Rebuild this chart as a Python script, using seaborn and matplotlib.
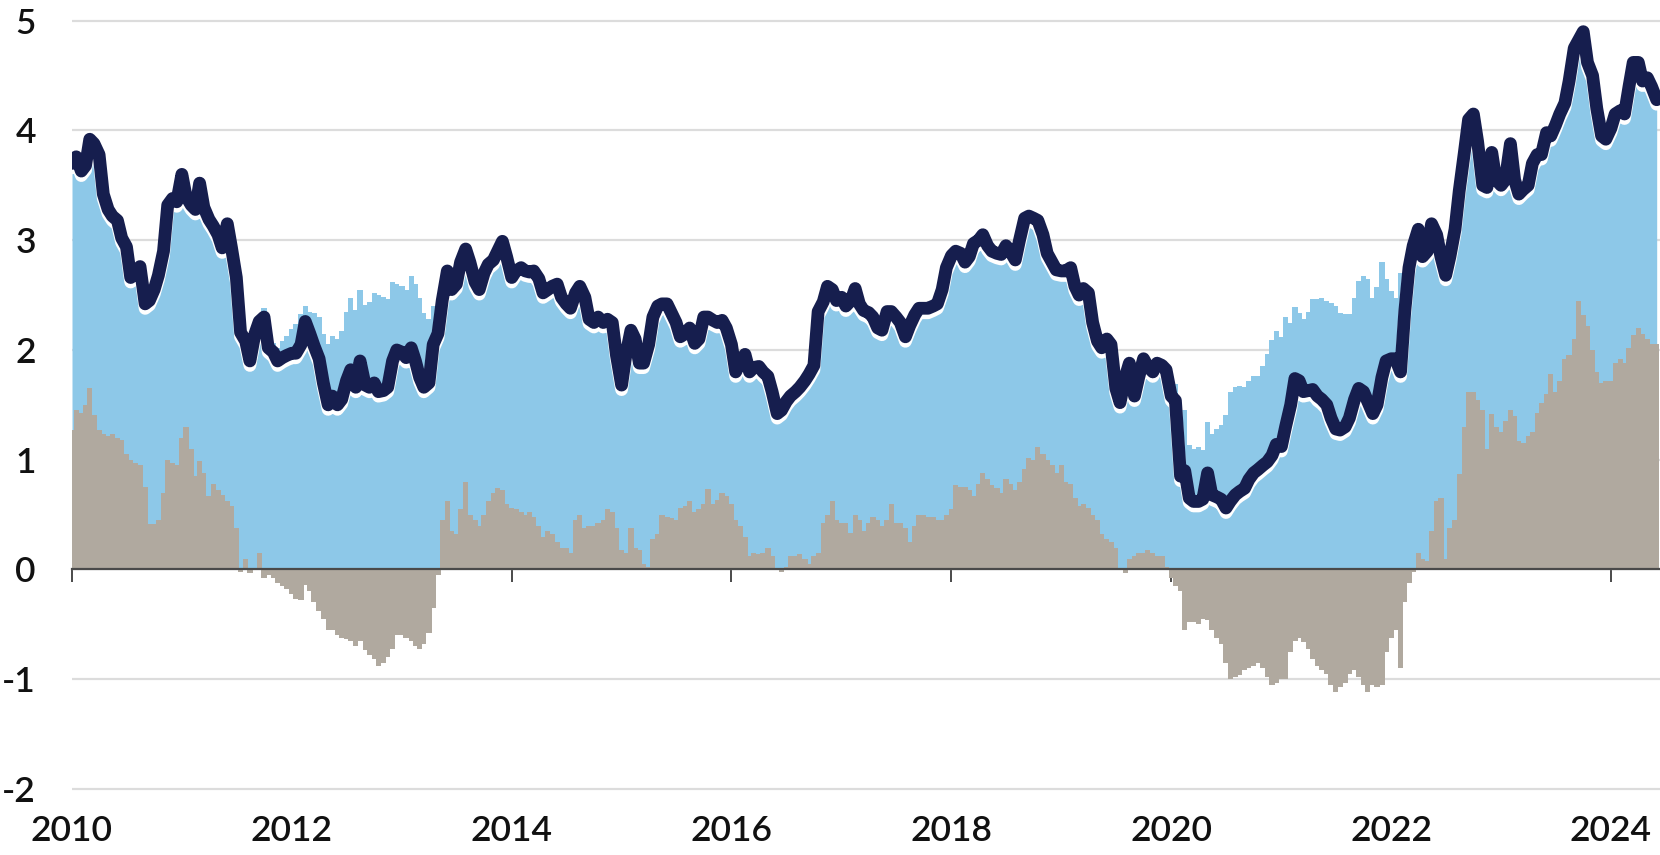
import numpy as np
import pandas as pd
import matplotlib
matplotlib.use("Agg")
import matplotlib.pyplot as plt
from matplotlib.transforms import ScaledTranslation
import seaborn as sns

# ---------------- data (semi-monthly readings, %) ----------------
nominal_yield = [
    3.70, 3.76, 3.63, 3.68, 3.92, 3.88, 3.78, 3.42, 3.28, 3.22, 3.18, 3.02, 2.94, 2.66, 2.70, 2.76, 2.42, 2.45, 2.55, 2.68, 2.90, 3.32, 3.38, 3.35,  # 2010
    3.60, 3.40, 3.32, 3.28, 3.52, 3.30, 3.19, 3.13, 3.05, 2.93, 3.15, 2.93, 2.66, 2.16, 2.08, 1.90, 2.15, 2.26, 2.30, 2.02, 1.98, 1.90, 1.93, 1.95,  # 2011
    1.97, 1.97, 2.05, 2.26, 2.15, 2.04, 1.92, 1.70, 1.50, 1.58, 1.50, 1.55, 1.72, 1.82, 1.66, 1.90, 1.68, 1.66, 1.70, 1.62, 1.63, 1.66, 1.90, 2.00,  # 2012
    1.98, 1.93, 2.02, 1.90, 1.75, 1.66, 1.70, 2.05, 2.15, 2.45, 2.72, 2.55, 2.60, 2.80, 2.92, 2.80, 2.62, 2.55, 2.70, 2.78, 2.82, 2.90, 2.99, 2.85,  # 2013
    2.66, 2.72, 2.75, 2.72, 2.71, 2.72, 2.65, 2.52, 2.55, 2.58, 2.60, 2.48, 2.42, 2.38, 2.52, 2.58, 2.48, 2.28, 2.25, 2.30, 2.25, 2.28, 2.25, 1.95,  # 2014
    1.68, 1.95, 2.18, 2.10, 1.88, 1.88, 2.05, 2.30, 2.40, 2.42, 2.42, 2.34, 2.25, 2.12, 2.15, 2.20, 2.06, 2.10, 2.30, 2.30, 2.27, 2.25, 2.27, 2.20,  # 2015
    2.05, 1.80, 1.90, 1.96, 1.80, 1.84, 1.85, 1.80, 1.76, 1.62, 1.42, 1.45, 1.53, 1.58, 1.62, 1.66, 1.72, 1.78, 1.86, 2.35, 2.44, 2.58, 2.55, 2.45,  # 2016
    2.48, 2.40, 2.45, 2.56, 2.42, 2.36, 2.34, 2.30, 2.20, 2.18, 2.35, 2.35, 2.30, 2.25, 2.12, 2.22, 2.32, 2.38, 2.38, 2.38, 2.40, 2.42, 2.55, 2.75,  # 2017
    2.86, 2.90, 2.88, 2.80, 2.85, 2.97, 3.00, 3.05, 2.95, 2.90, 2.88, 2.87, 2.95, 2.90, 2.82, 3.00, 3.20, 3.22, 3.20, 3.18, 3.05, 2.88, 2.80, 2.73,  # 2018
    2.72, 2.72, 2.75, 2.58, 2.50, 2.56, 2.52, 2.25, 2.08, 2.02, 2.10, 2.05, 1.65, 1.52, 1.75, 1.88, 1.58, 1.75, 1.92, 1.85, 1.80, 1.88, 1.86, 1.82,  # 2019
    1.58, 1.54, 0.85, 0.90, 0.65, 0.62, 0.62, 0.64, 0.88, 0.68, 0.66, 0.64, 0.56, 0.62, 0.68, 0.71, 0.74, 0.82, 0.88, 0.91, 0.95, 0.98, 1.04, 1.14,  # 2020
    1.12, 1.30, 1.50, 1.74, 1.72, 1.62, 1.63, 1.64, 1.58, 1.55, 1.50, 1.38, 1.28, 1.27, 1.30, 1.38, 1.55, 1.65, 1.62, 1.53, 1.42, 1.50, 1.75, 1.90,  # 2021
    1.92, 1.92, 1.80, 2.35, 2.75, 2.95, 3.10, 2.85, 2.90, 3.15, 3.05, 2.85, 2.68, 2.85, 3.10, 3.45, 3.80, 4.10, 4.15, 3.90, 3.50, 3.48, 3.80, 3.55,  # 2022
    3.50, 3.55, 3.88, 3.55, 3.42, 3.46, 3.50, 3.70, 3.78, 3.78, 3.98, 3.95, 4.05, 4.15, 4.25, 4.45, 4.75, 4.82, 4.90, 4.62, 4.50, 4.20, 3.95, 3.92,  # 2023
    4.02, 4.15, 4.18, 4.15, 4.40, 4.62, 4.62, 4.45, 4.48, 4.40, 4.28,  # 2024
]

real_yield = [
    1.27, 1.45, 1.43, 1.50, 1.65, 1.41, 1.27, 1.23, 1.22, 1.23, 1.20, 1.18, 1.05, 1.00, 0.97, 0.95, 0.75, 0.41, 0.41, 0.45, 0.70, 1.00, 0.97, 0.95,  # 2010
    1.20, 1.30, 1.10, 0.85, 0.99, 0.88, 0.67, 0.78, 0.72, 0.68, 0.62, 0.58, 0.38, -0.02, 0.10, -0.03, 0.00, 0.15, -0.08, -0.05, -0.08, -0.12, -0.15, -0.18,  # 2011
    -0.22, -0.27, -0.28, -0.14, -0.20, -0.30, -0.38, -0.45, -0.55, -0.55, -0.60, -0.62, -0.63, -0.65, -0.70, -0.65, -0.73, -0.78, -0.82, -0.88, -0.85, -0.80, -0.72, -0.60,  # 2012
    -0.60, -0.62, -0.65, -0.70, -0.72, -0.68, -0.58, -0.35, -0.05, 0.45, 0.62, 0.35, 0.32, 0.55, 0.80, 0.50, 0.45, 0.40, 0.50, 0.62, 0.70, 0.74, 0.72, 0.60,  # 2013
    0.56, 0.55, 0.52, 0.50, 0.52, 0.48, 0.40, 0.30, 0.35, 0.32, 0.25, 0.20, 0.20, 0.15, 0.45, 0.50, 0.38, 0.40, 0.40, 0.42, 0.45, 0.55, 0.52, 0.38,  # 2014
    0.18, 0.15, 0.38, 0.20, 0.18, 0.05, 0.02, 0.28, 0.32, 0.50, 0.48, 0.47, 0.45, 0.56, 0.58, 0.62, 0.52, 0.55, 0.60, 0.73, 0.60, 0.63, 0.70, 0.67,  # 2015
    0.60, 0.45, 0.40, 0.30, 0.12, 0.15, 0.14, 0.15, 0.20, 0.12, 0.00, -0.02, 0.02, 0.12, 0.12, 0.14, 0.10, 0.05, 0.12, 0.15, 0.42, 0.50, 0.62, 0.45,  # 2016
    0.42, 0.42, 0.33, 0.50, 0.45, 0.35, 0.42, 0.48, 0.45, 0.40, 0.45, 0.60, 0.42, 0.42, 0.38, 0.25, 0.40, 0.50, 0.50, 0.48, 0.48, 0.45, 0.45, 0.50,  # 2017
    0.55, 0.77, 0.75, 0.75, 0.72, 0.67, 0.78, 0.88, 0.82, 0.77, 0.74, 0.70, 0.82, 0.78, 0.72, 0.80, 0.92, 1.02, 1.00, 1.12, 1.05, 1.00, 0.95, 0.88,  # 2018
    0.95, 0.80, 0.78, 0.65, 0.58, 0.60, 0.56, 0.50, 0.45, 0.32, 0.28, 0.25, 0.20, 0.00, -0.03, 0.10, 0.12, 0.15, 0.15, 0.18, 0.15, 0.12, 0.12, 0.02,  # 2019
    -0.08, -0.15, -0.20, -0.55, -0.48, -0.48, -0.50, -0.45, -0.46, -0.55, -0.62, -0.68, -0.85, -1.00, -0.98, -0.96, -0.92, -0.90, -0.88, -0.85, -0.90, -0.98, -1.05, -1.03,  # 2020
    -1.00, -1.00, -0.75, -0.65, -0.62, -0.66, -0.72, -0.82, -0.88, -0.92, -0.95, -1.05, -1.12, -1.07, -1.03, -0.95, -0.92, -0.98, -1.05, -1.12, -1.05, -1.07, -1.05, -0.75,  # 2021
    -0.62, -0.55, -0.90, -0.30, -0.12, -0.02, 0.15, 0.10, 0.08, 0.35, 0.62, 0.65, 0.10, 0.38, 0.45, 0.87, 1.30, 1.62, 1.62, 1.54, 1.45, 1.10, 1.42, 1.30,  # 2022
    1.25, 1.35, 1.45, 1.40, 1.17, 1.15, 1.22, 1.25, 1.43, 1.52, 1.60, 1.78, 1.62, 1.72, 1.92, 1.95, 2.10, 2.45, 2.32, 2.22, 2.00, 1.80, 1.70, 1.72,  # 2023
    1.72, 1.88, 1.92, 1.88, 2.02, 2.14, 2.20, 2.15, 2.10, 2.05, 2.05,  # 2024
]

start_date = "2010-01-01"
end_date = "2024-06-12"
x_tick_years = [2010, 2012, 2014, 2016, 2018, 2020, 2022, 2024]
y_ticks = [-2, -1, 0, 1, 2, 3, 4, 5]
y_tick_labels = ["-2", "-1", "0", "1", "2", "3", "4", "5"]

NAVY = "#161E4E"
BLUE = "#8DC8E8"
GRAY = "#B0A99F"
GRID = "#DCDCDC"
AXIS = "#4A4A4A"

# ---------------- styling ----------------
sns.set_theme(style="white")
plt.rcParams["font.family"] = ["Lato", "DejaVu Sans"]
plt.rcParams["font.weight"] = 600

nom = np.array(nominal_yield)
real = np.array(real_yield)
assert len(nom) == len(real)
dates = pd.date_range(start_date, periods=len(nom), freq="SMS")
breakeven = nom - real
df = pd.DataFrame({"date": dates, "nominal": nom, "real": real,
                   "breakeven": breakeven})

W, H = 1660, 855
fig = plt.figure(figsize=(W / 100, H / 100), dpi=100)
ax = fig.add_axes([72 / W, 63.8 / H, (W - 72) / W, 772.7 / H])

# blue area: nominal (and breakeven where it exceeds nominal)
ax.fill_between(df["date"], 0, df["nominal"], color=BLUE, lw=0, zorder=1)
be_above = np.where(df["real"] < 0, df["breakeven"], 0.0)
ax.bar(df["date"], be_above, width=17.5, color=BLUE, lw=0, zorder=1)

# real yield bars
ax.bar(df["date"], df["real"], width=17.5, color=GRAY, lw=0, zorder=2)

# white shadow + navy line
sns.lineplot(data=df, x="date", y="nominal", ax=ax, color="white",
             linewidth=9.2, solid_capstyle="round", solid_joinstyle="round",
             zorder=3, legend=False)
ax.lines[-1].set_transform(ax.transData +
                           ScaledTranslation(0, -0.045, fig.dpi_scale_trans))
sns.lineplot(data=df, x="date", y="nominal", ax=ax, color=NAVY,
             linewidth=9.2, solid_capstyle="round", solid_joinstyle="round",
             zorder=4, legend=False)

ax.set_xlabel("")
ax.set_ylabel("")
ax.set_xlim(pd.Timestamp(start_date), pd.Timestamp(end_date))
ax.set_ylim(-2.02, 5.02)

ax.set_yticks(y_ticks)
ax.set_yticklabels(y_tick_labels)
ax.set_xticks([pd.Timestamp(f"{y}-01-01") for y in x_tick_years])
ax.set_xticklabels([str(y) for y in x_tick_years])

ax.yaxis.grid(True, color=GRID, linewidth=1.6)
ax.xaxis.grid(False)
ax.set_axisbelow(True)

for s in ["left", "right", "top"]:
    ax.spines[s].set_visible(False)
ax.spines["bottom"].set_position(("data", 0))
ax.spines["bottom"].set_color(AXIS)
ax.spines["bottom"].set_linewidth(1.6)
ax.spines["bottom"].set_zorder(6)

ax.tick_params(axis="x", direction="out", length=9, width=1.4, color=AXIS,
               pad=168, labelsize=25.5, labelcolor="#111111", bottom=True)
ax.tick_params(axis="y", length=0, pad=26, labelsize=25.5, labelcolor="#111111")

fig.savefig("out.png", dpi=100)
